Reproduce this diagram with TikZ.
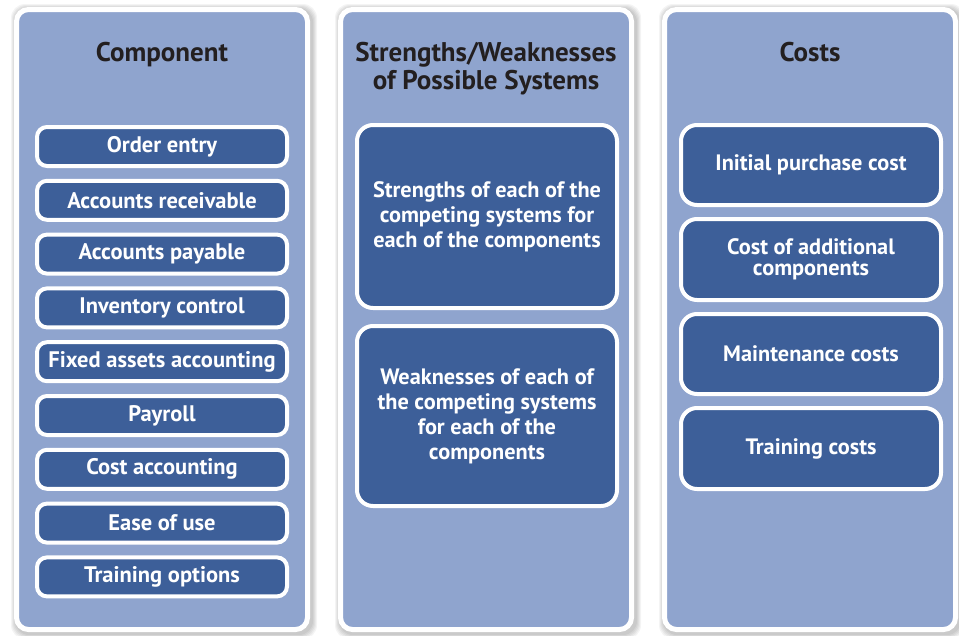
\documentclass[tikz,border=0pt]{standalone}
\usepackage{fontspec}
\setmainfont{PT Sans}
\definecolor{panelblue}{RGB}{143,164,206}
\definecolor{boxblue}{RGB}{61,95,153}
\definecolor{titlec}{RGB}{35,31,32}
\tikzset{
  panel/.style={draw=white, line width=5pt, fill=panelblue, rounded corners=12pt,
    minimum width=291pt, minimum height=620pt, inner sep=0pt},
  ptitle/.style={text=titlec, font=\fontsize{27}{28}\selectfont\bfseries, align=center, inner sep=0pt},
  smallbox/.style={draw=white, line width=4pt, fill=boxblue, rounded corners=10pt,
    minimum width=250pt, minimum height=39pt, inner sep=0pt, text=white,
    font=\fontsize{22.5}{25}\selectfont\bfseries, align=center},
  bigbox/.style={draw=white, line width=4pt, fill=boxblue, rounded corners=16pt,
    minimum width=260pt, inner sep=0pt, text=white,
    font=\fontsize{22.3}{25}\selectfont\bfseries, align=center},
  shade/.style={fill=black, opacity=0.045, rounded corners=14pt}
}
\begin{document}
\begin{tikzpicture}[x=1pt,y=-1pt]
\useasboundingbox (0,0) rectangle (959,635);
\fill[white] (0,0) rectangle (959,635);
% soft shadows
\foreach \cx in {162,486,810}{
  \foreach \d in {1,2,3,4,5}{
    \fill[shade] (\cx-148-\d+2,7-\d+2) rectangle (\cx+148+\d+2,632+\d+2);
  }
}
% panels
\node[panel] (p1) at (162,319.5) {};
\node[panel] (p2) at (486,319.5) {};
\node[panel] (p3) at (810,319.5) {};
% titles
\node[ptitle, anchor=base] (t1) at (162,61) {Component};
\node[ptitle, anchor=base] (t2) at (486,89) {Strengths/Weaknesses\\of Possible Systems};
\node[ptitle, anchor=base] (t3) at (810,61) {Costs};
% left column
\begin{scope}[every node/.append style={yshift=-1.5pt}]
\node[smallbox] (c1) at (162,145) {Order entry};
\node[smallbox] (c2) at (162,198.8) {Accounts receivable};
\node[smallbox] (c3) at (162,252.6) {Accounts payable};
\node[smallbox] (c4) at (162,306.4) {Inventory control};
\node[smallbox] (c5) at (162,360.2) {Fixed assets accounting};
\node[smallbox] (c6) at (162,414) {Payroll};
\node[smallbox] (c7) at (162,467.8) {Cost accounting};
\node[smallbox] (c8) at (162,521.6) {Ease of use};
\node[smallbox] (c9) at (162,575.4) {Training options};
\end{scope}
% middle column
\node[bigbox, minimum height=183pt] (s1) at (487,216.5) {Strengths of each of the\\competing systems for\\each of the components};
\node[bigbox, minimum height=180pt] (s2) at (487,416) {Weaknesses of each of\\the competing systems\\for each of the\\components};
% right column
\node[bigbox, minimum height=80pt] (k1) at (811,165) {Initial purchase cost};
\node[bigbox, minimum height=81pt, font=\fontsize{22.3}{21}\selectfont\bfseries] (k2) at (811,259.5) {Cost of additional\\components};
\node[bigbox, minimum height=80pt] (k3) at (811,354) {Maintenance costs};
\node[bigbox, minimum height=81pt] (k4) at (811,448.5) {Training costs};
\end{tikzpicture}
\end{document}
